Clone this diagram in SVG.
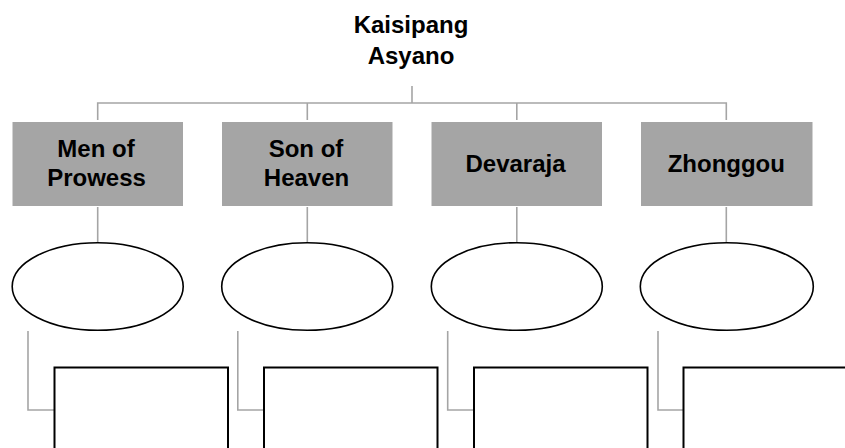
<svg xmlns="http://www.w3.org/2000/svg" width="845" height="448" viewBox="0 0 845 448">
<style>
.t{font-family:"Liberation Sans",Arial,sans-serif;font-weight:bold;font-size:24px;fill:#000;text-anchor:middle}
.hd{fill:#a5a5a5}
.el{fill:#fff;stroke:#000;stroke-width:1.6}
.bx{fill:#fff;stroke:#000;stroke-width:2}
.cn{fill:none;stroke:#a5a5a5;stroke-width:1.6}
</style>
<rect width="845" height="448" fill="#fff"/>
<g id="connectors">
<path class="cn" d="M412 86V103M97.7 120V103H726.3V120M307.3 103V120M516.8 103V120"/>
<path class="cn" d="M97.7 207V242.5M307.3 207V242.5M516.8 207V242.5M726.3 207V242.5"/>
<path class="cn" d="M28 331V410H54.5M237.8 331V410H264M447.7 331V410H474M658 331V410H683.5"/>
</g>
<g id="root"><text class="t" x="411" y="33">Kaisipang</text><text class="t" x="411" y="64">Asyano</text></g>
<g id="n1"><rect class="hd" x="12.5" y="122" width="170.5" height="84"/><text class="t" x="96" y="157">Men of</text><text class="t" x="96.5" y="186">Prowess</text></g>
<g id="n2"><rect class="hd" x="222" y="122" width="170.5" height="84"/><text class="t" x="306" y="157">Son of</text><text class="t" x="306.5" y="186">Heaven</text></g>
<g id="n3"><rect class="hd" x="431.5" y="122" width="170.5" height="84"/><text class="t" x="515.5" y="172">Devaraja</text></g>
<g id="n4"><rect class="hd" x="641" y="122" width="171.5" height="84"/><text class="t" x="726.3" y="172">Zhonggou</text></g>
<g id="e1"><ellipse class="el" cx="97.7" cy="286.5" rx="85.5" ry="43.8"/></g>
<g id="e2"><ellipse class="el" cx="307.2" cy="286.5" rx="85.5" ry="43.8"/></g>
<g id="e3"><ellipse class="el" cx="516.8" cy="286.5" rx="85.5" ry="43.8"/></g>
<g id="e4"><ellipse class="el" cx="726.8" cy="286.5" rx="86.5" ry="43.8"/></g>
<g id="b1"><rect class="bx" x="54.5" y="367.5" width="173.5" height="100"/></g>
<g id="b2"><rect class="bx" x="264" y="367.5" width="173.5" height="100"/></g>
<g id="b3"><rect class="bx" x="474" y="367.5" width="173.5" height="100"/></g>
<g id="b4"><rect class="bx" x="683.5" y="367.5" width="173.5" height="100"/></g>
</svg>
